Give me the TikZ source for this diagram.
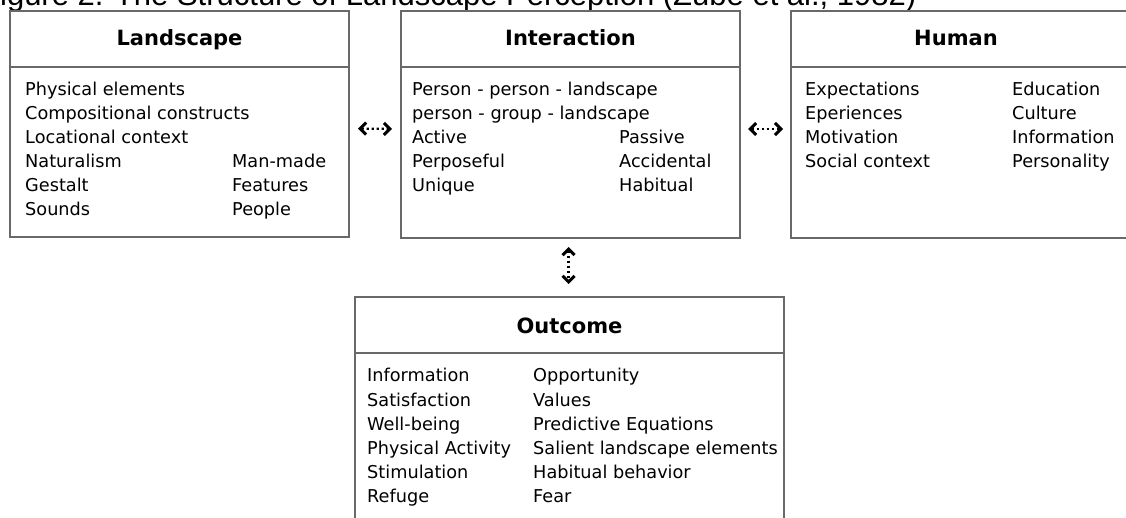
\documentclass[tikz,border=0pt]{standalone}
\usepackage{fontspec}
\setmainfont{DejaVu Sans}
\newfontfamily\captionfont{Liberation Sans}
\usetikzlibrary{arrows.meta}
\definecolor{framegray}{RGB}{105,105,105}

\begin{document}
\begin{tikzpicture}[x=1bp,y=-1bp,
  panel/.style={draw=framegray, line width=2bp, rectangle, inner sep=0pt,
    anchor=north west, minimum width=339bp},
  divider/.style={draw=framegray, line width=2bp},
  head/.style={inner sep=0pt, anchor=base,
    font=\fontsize{21bp}{24bp}\selectfont\bfseries},
  item/.style={inner sep=0pt, anchor=base west,
    font=\fontsize{17.7bp}{24bp}\selectfont},
  chev/.tip={Straight Barb[length=6bp,width=12bp,line width=3bp]},
  link/.style={line width=2.2bp, dash pattern=on 2.2bp off 2.8bp, chev-chev},
]
\useasboundingbox (0,0) rectangle (1126,518);
\clip (0,0) rectangle (1126,518);

% caption, running off the top edge
\node[inner sep=0pt, anchor=base west,
      font=\captionfont\fontsize{31bp}{36bp}\selectfont] (caption) at (-19,6)
  {Figure 2. The Structure of Landscape Perception (Zube et al., 1982)};

% the four panels
\node[panel, minimum height=226bp] (land)  at (9,10)   {};
\node[panel, minimum height=227bp] (inter) at (400,10) {};
\node[panel, minimum height=227bp] (human) at (790,10) {};
\node[panel, minimum width=429bp, minimum height=260bp] (outc) at (354,296) {};

% header dividers
\draw[divider] ([yshift=-57bp]land.north west)  -- ([yshift=-57bp]land.north east);
\draw[divider] ([yshift=-57bp]inter.north west) -- ([yshift=-57bp]inter.north east);
\draw[divider] ([yshift=-57bp]human.north west) -- ([yshift=-57bp]human.north east);
\draw[divider] ([yshift=-57bp]outc.north west)  -- ([yshift=-57bp]outc.north east);

% headers
\node[head] (landT)  at ([yshift=-36bp]land.north)  {Landscape};
\node[head] (interT) at ([yshift=-36bp]inter.north) {Interaction};
\node[head] (humanT) at ([xshift=-4.5bp,yshift=-36bp]human.north) {Human};
\node[head] (outcT)  at ([yshift=-38bp]outc.north)  {Outcome};

% Landscape entries
\node[item] (l1) at (25,96)  {Physical elements};
\node[item] (l2) at (25,120) {Compositional constructs};
\node[item] (l3) at (25,144) {Locational context};
\node[item] (l4) at (25,168) {Naturalism};
\node[item] (l5) at (25,192) {Gestalt};
\node[item] (l6) at (25,216) {Sounds};
\node[item] (l7) at (232,168) {Man-made};
\node[item] (l8) at (232,192) {Features};
\node[item] (l9) at (232,216) {People};

% Interaction entries
\node[item] (i1) at (412,96)  {Person - person - landscape};
\node[item] (i2) at (412,120) {person - group - landscape};
\node[item] (i3) at (412,144) {Active};
\node[item] (i4) at (412,168) {Perposeful};
\node[item] (i5) at (412,192) {Unique};
\node[item] (i6) at (619,144) {Passive};
\node[item] (i7) at (619,168) {Accidental};
\node[item] (i8) at (619,192) {Habitual};

% Human entries
\node[item] (h1) at (805,96)  {Expectations};
\node[item] (h2) at (805,120) {Eperiences};
\node[item] (h3) at (805,144) {Motivation};
\node[item] (h4) at (805,168) {Social context};
\node[item] (h5) at (1012,96)  {Education};
\node[item] (h6) at (1012,120) {Culture};
\node[item] (h7) at (1012,144) {Information};
\node[item] (h8) at (1012,168) {Personality};

% Outcome entries
\node[item] (o1)  at (367,382) {Information};
\node[item] (o2)  at (367,406) {Satisfaction};
\node[item] (o3)  at (367,430) {Well-being};
\node[item] (o4)  at (367,454) {Physical Activity};
\node[item] (o5)  at (367,478) {Stimulation};
\node[item] (o6)  at (367,502) {Refuge};
\node[item] (o7)  at (533,382) {Opportunity};
\node[item] (o8)  at (533,406) {Values};
\node[item] (o9)  at (533,430) {Predictive Equations};
\node[item] (o10) at (533,454) {Salient landscape elements};
\node[item] (o11) at (533,478) {Habitual behavior};
\node[item] (o12) at (533,502) {Fear};

% two-way links between panels
\draw[link, shorten <=8bp, shorten >=8bp]
  ([yshift=-4.5bp]land.east) -- ([yshift=-4.5bp]inter.west);
\draw[link, shorten <=7bp, shorten >=7bp]
  ([yshift=-4.5bp]inter.east) -- ([yshift=-4.5bp]human.west);
\draw[link, shorten <=8bp, shorten >=12bp]
  ([xshift=-2bp]inter.south) -- ([xshift=-2bp]inter.south |- outc.north);
\end{tikzpicture}
\end{document}
